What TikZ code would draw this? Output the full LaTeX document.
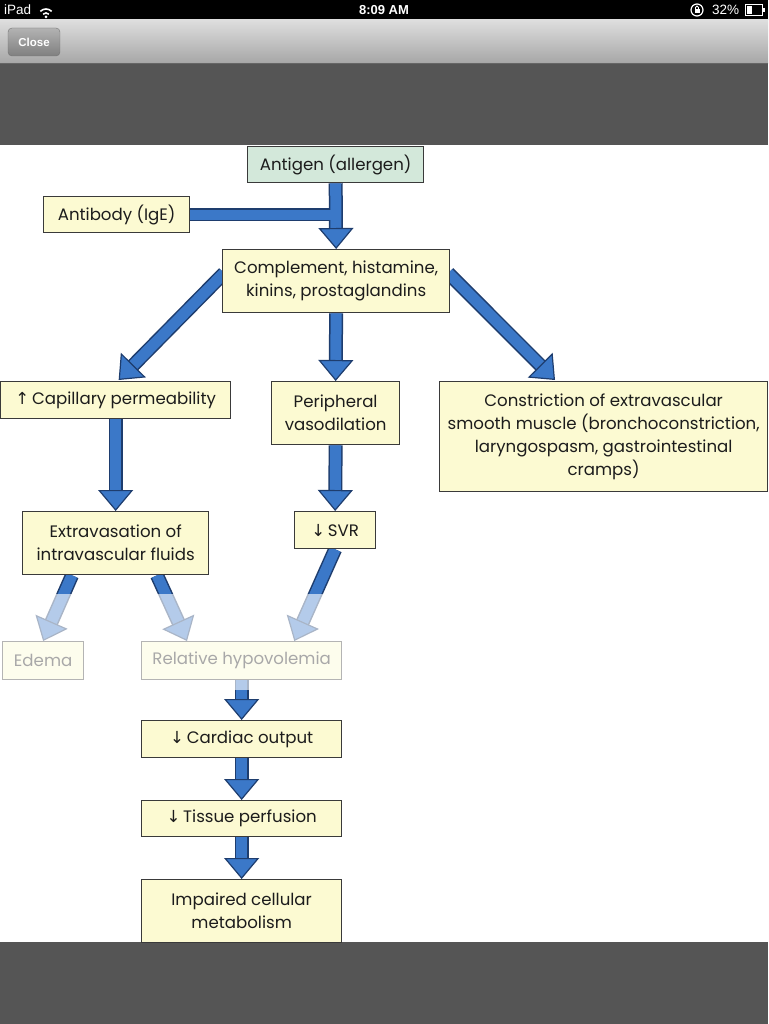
\documentclass[tikz,border=0pt]{standalone}
\usepackage{fontspec}
\setmainfont{Poppins}
\newfontfamily\sym{DejaVu Sans}
\newfontfamily\ui{Liberation Sans}
\usetikzlibrary{arrows.meta,calc}
\definecolor{boxy}{HTML}{FCFAD2}
\definecolor{boxg}{HTML}{D3E8DA}
\definecolor{ablue}{HTML}{3B78C8}
\definecolor{aout}{HTML}{1E3D6E}
\definecolor{edgec}{HTML}{3A3A3A}
\definecolor{barg}{HTML}{555555}
\definecolor{txt}{HTML}{1C1C1C}
\newcommand\fatarrow[2]{%
  \draw[line width=14pt, aout, shorten >=19pt] #1 -- #2;
  \draw[line width=11pt, ablue, -{Triangle[width=35pt,length=21pt,line width=1.2pt,fill=ablue,color=aout]}] #1 -- #2;}
\begin{document}
\begin{tikzpicture}[x=1pt,y=-1pt,
  box/.style={draw=edgec, line width=1.3pt, fill=boxy, inner sep=0pt, align=center,
    anchor=north west, text=txt, font=\fontsize{16.6}{23}\selectfont},
  uitext/.style={text=white, font=\ui\fontsize{13.5}{13.5}\selectfont, inner sep=0pt}]
\useasboundingbox (0,0) rectangle (768,1024);
% device frame
\fill[black] (0,0) rectangle (768,20);
\shade[top color=black!13, bottom color=black!35] (0,20) rectangle (768,64);
\draw[black!60, line width=1pt] (0,64) -- (768,64);
\fill[barg] (0,64.5) rectangle (768,145);
\fill[white] (0,145) rectangle (768,942);
\fill[barg] (0,942) rectangle (768,1024);
% status bar
\node[uitext, anchor=west] (ipad) at (4,10) {iPad};
\draw[white, line width=1.6pt] (46,17) ++(225:4) arc[start angle=225, end angle=315, radius=4];
\draw[white, line width=1.6pt] (46,17) ++(225:8) arc[start angle=225, end angle=315, radius=8];
\fill[white] (46,17) circle (1.5);
\node[uitext, font=\ui\bfseries\fontsize{13}{13}\selectfont] (clock) at (384,10) {8:09 AM};
\draw[white, line width=1.2pt] (697,10) circle (6);
\fill[white] (694.5,9) rectangle (699.5,13);
\draw[white, line width=0.9pt] (695.5,9) -- (695.5,7.5) arc[start angle=180, end angle=360, radius=1.5] -- (698.5,9);
\node[uitext, anchor=west] (batt) at (712,10) {32\%};
\draw[white, line width=1pt] (745,4.5) rectangle (762,15.5);
\fill[white] (746.5,6) rectangle (751.5,14);
\fill[white] (762.5,8) rectangle (764.5,12);
% close button
\shade[top color=black!30, bottom color=black!50, rounded corners=4pt, draw=black!55]
  (8,28) rectangle (60,56);
\node[text=white, font=\ui\bfseries\fontsize{11.5}{12}\selectfont, inner sep=0pt] (close) at (34,42) {Close};
% nodes
\path
  (247,146) node[box, fill=boxg, minimum width=176pt, minimum height=36pt] (antigen) {Antigen (allergen)}
  (43,196) node[box, minimum width=146pt, minimum height=36pt] (antibody) {Antibody (IgE)}
  (222,249) node[box, minimum width=227pt, minimum height=63pt] (compl) {Complement, histamine,\\kinins, prostaglandins}
  (0,381) node[box, minimum width=230pt, minimum height=37pt] (cap) {{\sym↑}\,Capillary permeability}
  (271,381) node[box, minimum width=128pt, minimum height=63pt] (periph) {Peripheral\\vasodilation}
  (439,381) node[box, minimum width=328pt, minimum height=110pt] (constr) {Constriction of extravascular\\smooth muscle (bronchoconstriction,\\laryngospasm, gastrointestinal\\cramps)}
  (22,511) node[box, minimum width=186pt, minimum height=63pt] (extrav) {Extravasation of\\intravascular fluids}
  (294,511) node[box, minimum width=81pt, minimum height=37pt] (svr) {{\sym↓}\,SVR}
  (2,641) node[box, minimum width=81pt, minimum height=38pt] (edema) {Edema}
  (141,641) node[box, minimum width=200pt, minimum height=38pt] (relhyp) {Relative hypovolemia}
  (141,720) node[box, minimum width=200pt, minimum height=37pt] (cardiac) {{\sym↓}\,Cardiac output}
  (141,800) node[box, minimum width=200pt, minimum height=36pt] (tissue) {{\sym↓}\,Tissue perfusion}
  (141,879) node[box, minimum width=200pt, minimum height=63pt] (impaired) {Impaired cellular\\metabolism};
% connectors
\coordinate (abjoin) at (antibody.east -| antigen.south);
\draw[line width=13pt, aout] (antibody.east) -- ($(abjoin)+(1,0)$);
\draw[line width=10pt, ablue] (antibody.east) -- ($(abjoin)+(1,0)$);
\fatarrow{(antigen.south)}{(compl.north)}
\draw[line width=10pt, ablue] ($(antibody.east)+(2,0)$) -- ($(abjoin)+(3,0)$);
\fatarrow{($(compl.west)+(2,-8)$)}{($(cap.north)+(3,-1)$)}
\fatarrow{(compl.south)}{(periph.north)}
\fatarrow{($(compl.east)+(-2,-8)$)}{($(constr.north west)+(116,-1)$)}
\fatarrow{(cap.south)}{(extrav.north)}
\fatarrow{(periph.south)}{(svr.north)}
\fatarrow{($(extrav.south west)+(50,0)$)}{(edema.north)}
\fatarrow{($(extrav.south west)+(135,0)$)}{($(relhyp.north west)+(46,0)$)}
\fatarrow{(svr.south)}{($(relhyp.north east)+(-48,0)$)}
\fatarrow{(relhyp.south)}{(cardiac.north)}
\fatarrow{(cardiac.south)}{(tissue.north)}
\fatarrow{(tissue.south)}{(impaired.north)}
% redraw boxes on top of connectors
\path
  (247,146) node[box, fill=boxg, minimum width=176pt, minimum height=36pt] {Antigen (allergen)}
  (43,196) node[box, minimum width=146pt, minimum height=36pt] {Antibody (IgE)}
  (222,249) node[box, minimum width=227pt, minimum height=63pt] {Complement, histamine,\\kinins, prostaglandins}
  (0,381) node[box, minimum width=230pt, minimum height=37pt] {{\sym↑}\,Capillary permeability}
  (271,381) node[box, minimum width=128pt, minimum height=63pt] {Peripheral\\vasodilation}
  (439,381) node[box, minimum width=328pt, minimum height=110pt] {Constriction of extravascular\\smooth muscle (bronchoconstriction,\\laryngospasm, gastrointestinal\\cramps)}
  (22,511) node[box, minimum width=186pt, minimum height=63pt] {Extravasation of\\intravascular fluids}
  (294,511) node[box, minimum width=81pt, minimum height=37pt] {{\sym↓}\,SVR};
% faded watermark band
\fill[white, opacity=0.62] (0,594) rectangle (346,690);
\end{tikzpicture}
\end{document}
